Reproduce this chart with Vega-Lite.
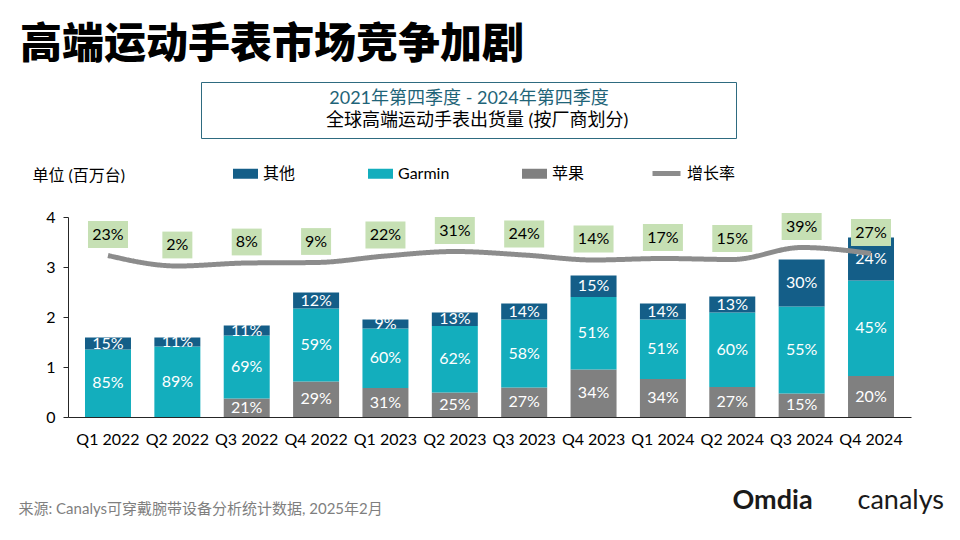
{
  "$schema": "https://vega.github.io/schema/vega-lite/v6.json",
  "width": 843,
  "height": 200,
  "autosize": {"type": "none"},
  "padding": {"left": 68, "top": 217, "right": 49, "bottom": 123},
  "background": "white",
  "config": {
    "font": "Lato, 'Noto Sans CJK SC', sans-serif",
    "view": {"stroke": null}
  },
  "title": {
    "text": "高端运动手表市场竞争加剧",
    "anchor": "start",
    "font": "'Noto Sans CJK SC', sans-serif",
    "fontSize": 42,
    "fontWeight": 900,
    "color": "#000000",
    "dx": 2,
    "offset": 15
  },
  "datasets": {
    "bars": [
      {"quarter": "Q1 2022", "maker": "Garmin", "value": 1.35, "share": 0.85},
      {"quarter": "Q1 2022", "maker": "Others", "value": 0.24, "share": 0.15},
      {"quarter": "Q2 2022", "maker": "Garmin", "value": 1.41, "share": 0.89},
      {"quarter": "Q2 2022", "maker": "Others", "value": 0.18, "share": 0.11},
      {"quarter": "Q3 2022", "maker": "Apple", "value": 0.37, "share": 0.21},
      {"quarter": "Q3 2022", "maker": "Garmin", "value": 1.26, "share": 0.69},
      {"quarter": "Q3 2022", "maker": "Others", "value": 0.20, "share": 0.11},
      {"quarter": "Q4 2022", "maker": "Apple", "value": 0.71, "share": 0.29},
      {"quarter": "Q4 2022", "maker": "Garmin", "value": 1.46, "share": 0.59},
      {"quarter": "Q4 2022", "maker": "Others", "value": 0.32, "share": 0.12},
      {"quarter": "Q1 2023", "maker": "Apple", "value": 0.58, "share": 0.31},
      {"quarter": "Q1 2023", "maker": "Garmin", "value": 1.19, "share": 0.60},
      {"quarter": "Q1 2023", "maker": "Others", "value": 0.18, "share": 0.09},
      {"quarter": "Q2 2023", "maker": "Apple", "value": 0.49, "share": 0.25},
      {"quarter": "Q2 2023", "maker": "Garmin", "value": 1.33, "share": 0.62},
      {"quarter": "Q2 2023", "maker": "Others", "value": 0.27, "share": 0.13},
      {"quarter": "Q3 2023", "maker": "Apple", "value": 0.59, "share": 0.27},
      {"quarter": "Q3 2023", "maker": "Garmin", "value": 1.36, "share": 0.58},
      {"quarter": "Q3 2023", "maker": "Others", "value": 0.32, "share": 0.14},
      {"quarter": "Q4 2023", "maker": "Apple", "value": 0.95, "share": 0.34},
      {"quarter": "Q4 2023", "maker": "Garmin", "value": 1.45, "share": 0.51},
      {"quarter": "Q4 2023", "maker": "Others", "value": 0.43, "share": 0.15},
      {"quarter": "Q1 2024", "maker": "Apple", "value": 0.76, "share": 0.34},
      {"quarter": "Q1 2024", "maker": "Garmin", "value": 1.19, "share": 0.51},
      {"quarter": "Q1 2024", "maker": "Others", "value": 0.32, "share": 0.14},
      {"quarter": "Q2 2024", "maker": "Apple", "value": 0.60, "share": 0.27},
      {"quarter": "Q2 2024", "maker": "Garmin", "value": 1.49, "share": 0.60},
      {"quarter": "Q2 2024", "maker": "Others", "value": 0.32, "share": 0.13},
      {"quarter": "Q3 2024", "maker": "Apple", "value": 0.47, "share": 0.15},
      {"quarter": "Q3 2024", "maker": "Garmin", "value": 1.74, "share": 0.55},
      {"quarter": "Q3 2024", "maker": "Others", "value": 0.94, "share": 0.30},
      {"quarter": "Q4 2024", "maker": "Apple", "value": 0.82, "share": 0.20},
      {"quarter": "Q4 2024", "maker": "Garmin", "value": 1.91, "share": 0.45},
      {"quarter": "Q4 2024", "maker": "Others", "value": 0.86, "share": 0.24}
    ],
    "growth": [
      {"quarter": "Q1 2022", "growth": 0.23},
      {"quarter": "Q2 2022", "growth": 0.02},
      {"quarter": "Q3 2022", "growth": 0.08},
      {"quarter": "Q4 2022", "growth": 0.09},
      {"quarter": "Q1 2023", "growth": 0.22},
      {"quarter": "Q2 2023", "growth": 0.31},
      {"quarter": "Q3 2023", "growth": 0.24},
      {"quarter": "Q4 2023", "growth": 0.14},
      {"quarter": "Q1 2024", "growth": 0.17},
      {"quarter": "Q2 2024", "growth": 0.15},
      {"quarter": "Q3 2024", "growth": 0.39},
      {"quarter": "Q4 2024", "growth": 0.27}
    ]
  },
  "layer": [
    {
      "data": {"name": "bars"},
      "layer": [
        {
          "mark": {"type": "bar"},
          "encoding": {
            "x": {
              "field": "quarter",
              "type": "nominal",
              "scale": {
                "domain": ["Q1 2022", "Q2 2022", "Q3 2022", "Q4 2022", "Q1 2023", "Q2 2023", "Q3 2023", "Q4 2023", "Q1 2024", "Q2 2024", "Q3 2024", "Q4 2024"],
                "paddingInner": 0.337,
                "paddingOuter": 0.245
              },
              "axis": {
                "title": "来源: Canalys可穿戴腕带设备分析统计数据, 2025年2月",
                "titleX": -50,
                "titleY": 91,
                "titleAlign": "left",
                "titleBaseline": "middle",
                "titleFontSize": 15,
                "titleFontWeight": "normal",
                "titleColor": "#7f7f7f",
                "labelAngle": 0,
                "labelFontSize": 16,
                "labelColor": "#000000",
                "labelPadding": 14,
                "ticks": false,
                "domainColor": "#262626"
              }
            },
            "y": {
              "field": "value",
              "type": "quantitative",
              "stack": "zero",
              "scale": {"domain": [0, 4], "nice": false},
              "axis": {
                "values": [0, 1, 2, 3, 4],
                "grid": false,
                "domainColor": "#262626",
                "tickColor": "#262626",
                "tickSize": 5,
                "labelFontSize": 16,
                "labelColor": "#000000",
                "labelPadding": 8,
                "title": "单位 (百万台)",
                "titleAngle": 0,
                "titleAlign": "left",
                "titleBaseline": "middle",
                "titleX": -36,
                "titleY": -42,
                "titleFontSize": 16,
                "titleFontWeight": "normal",
                "titleColor": "#000000"
              }
            },
            "color": {
              "field": "maker",
              "type": "nominal",
              "scale": {
                "domain": ["Others", "Garmin", "Apple"],
                "range": ["#145e88", "#13aebd", "#808080"]
              },
              "legend": {
                "orient": "none",
                "legendX": 164,
                "legendY": -57,
                "direction": "horizontal",
                "title": null,
                "padding": 0,
                "columnPadding": 71,
                "labelFontSize": 16,
                "labelColor": "#000000",
                "labelOffset": 4,
                "labelLimit": 200,
                "symbolSize": 625,
                "symbolType": "M-1,-0.4H1V0.4H-1Z",
                "labelExpr": "datum.value === 'Others' ? '其他' : datum.value === 'Apple' ? '苹果' : datum.label"
              }
            },
            "order": {"field": "maker", "sort": "ascending"}
          }
        },
        {
          "transform": [
            {"stack": "value", "groupby": ["quarter"], "sort": [{"field": "maker", "order": "ascending"}], "as": ["v0", "v1"]},
            {"calculate": "(datum.v0 + datum.v1) / 2", "as": "vmid"}
          ],
          "mark": {"type": "text", "color": "white", "fontSize": 16, "baseline": "middle"},
          "encoding": {
            "x": {"field": "quarter", "type": "nominal"},
            "y": {"field": "vmid", "type": "quantitative", "scale": {"domain": [0, 4], "nice": false}},
            "text": {"field": "share", "type": "quantitative", "format": ".0%"}
          }
        }
      ]
    },
    {
      "data": {"name": "growth"},
      "layer": [
        {
          "mark": {"type": "line", "strokeWidth": 5, "interpolate": "monotone", "color": "#8c8c8c"},
          "encoding": {
            "x": {
              "field": "quarter",
              "type": "nominal",
              "axis": {
                "orient": "top",
                "labels": false,
                "ticks": false,
                "domain": false,
                "title": "canalys",
                "titleX": 789,
                "titleY": 291,
                "titleAlign": "left",
                "titleBaseline": "alphabetic",
                "titleFontSize": 27,
                "titleFontWeight": "normal",
                "titleColor": "#1a1a1a"
              }
            },
            "y": {
              "field": "growth",
              "type": "quantitative",
              "scale": {"domain": [-3, 1], "nice": false, "zero": false},
              "axis": {
                "orient": "right",
                "labels": false,
                "ticks": false,
                "domain": false,
                "grid": false,
                "title": "Omdia",
                "titleAngle": 0,
                "titleX": -179,
                "titleY": 291,
                "titleAlign": "left",
                "titleBaseline": "alphabetic",
                "titleFontSize": 27,
                "titleFontWeight": "bold",
                "titleColor": "#1a1a1a"
              }
            },
            "strokeDash": {
              "datum": "增长率",
              "type": "nominal",
              "scale": {"range": [[1, 0]]},
              "legend": {
                "orient": "none",
                "legendX": 582,
                "legendY": -60,
                "title": null,
                "padding": 0,
                "labelFontSize": 16,
                "labelColor": "#000000",
                "labelOffset": 4,
                "symbolType": "stroke",
                "symbolSize": 784,
                "symbolStrokeWidth": 5,
                "symbolStrokeColor": "#8c8c8c"
              }
            }
          }
        },
        {
          "mark": {"type": "point", "filled": true, "opacity": 1, "size": 1600, "yOffset": -21, "color": "#c6e0b4"},
          "encoding": {
            "x": {"field": "quarter", "type": "nominal"},
            "y": {"field": "growth", "type": "quantitative", "scale": {"domain": [-3, 1], "nice": false, "zero": false}},
            "shape": {"condition": {"test": "datum.growth < 0.1", "value": "M-0.75,-0.67H0.75V0.67H-0.75Z"}, "value": "M-1,-0.67H1V0.67H-1Z"}
          }
        },
        {
          "mark": {"type": "text", "fontSize": 16, "color": "#000000", "yOffset": -21, "baseline": "middle"},
          "encoding": {
            "x": {"field": "quarter", "type": "nominal"},
            "y": {"field": "growth", "type": "quantitative", "scale": {"domain": [-3, 1], "nice": false, "zero": false}},
            "text": {"field": "growth", "type": "quantitative", "format": ".0%"},
            "opacity": {
              "datum": "全球高端运动手表出货量 (按厂商划分)",
              "type": "nominal",
              "scale": {"domain": ["L", "全球高端运动手表出货量 (按厂商划分)", "R"], "range": [1, 1, 1]},
              "legend": {
                "orient": "none",
                "legendX": 133,
                "legendY": -135,
                "direction": "horizontal",
                "columnPadding": 81,
                "title": "2021年第四季度 -  2024年第四季度",
                "titleFontSize": 18,
                "titleFontWeight": "normal",
                "titleColor": "#1f6478",
                "titleAnchor": "middle",
                "titlePadding": 4,
                "titleLimit": 1000,
                "labelFontSize": 18,
                "labelColor": "#000000",
                "labelOffset": 0,
                "labelLimit": 1000,
                "labelExpr": "datum.value === 'L' || datum.value === 'R' ? '' : datum.label",
                "symbolSize": 0,
                "symbolOpacity": 0,
                "symbolStrokeWidth": 0,
                "strokeColor": "#2e6b80",
                "padding": 8
              }
            }
          }
        }
      ]
    }
  ],
  "resolve": {"scale": {"y": "independent"}, "axis": {"x": "independent"}}
}
